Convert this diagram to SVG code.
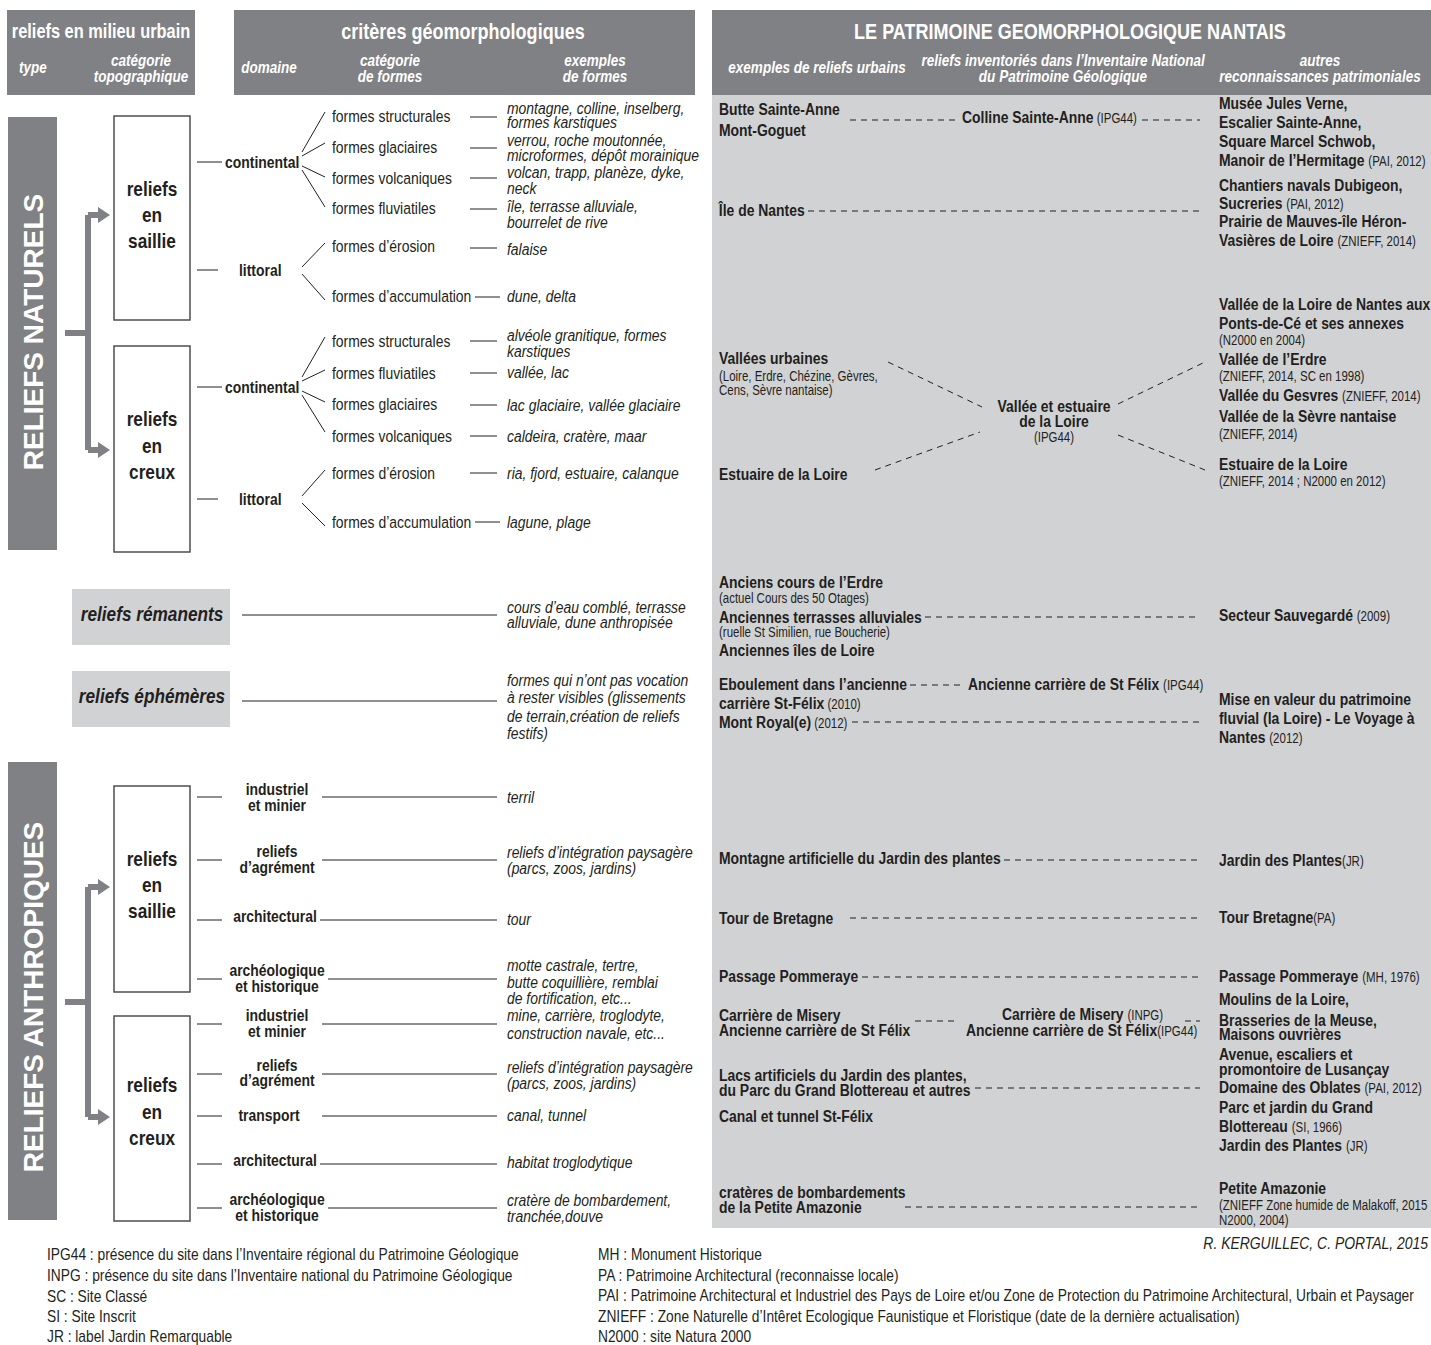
<svg xmlns="http://www.w3.org/2000/svg" width="1431" height="1345" viewBox="0 0 1431 1345">
<style>
text{font-family:"Liberation Sans",Arial,sans-serif;fill:#231f20;transform-box:fill-box;transform-origin:0% 50%;transform:scaleX(.82)}
.h,.hi,.bx,.bc,.gi,.m{transform-origin:50% 50%}
.h{font-size:22px;font-weight:bold;fill:#fff;text-anchor:middle}
.hi{font-size:16.5px;font-weight:bold;font-style:italic;fill:#fff;text-anchor:middle}
.v{font-size:28px;font-weight:bold;fill:#fff;text-anchor:middle;transform:none}
.bx{font-size:21px;font-weight:bold;text-anchor:middle}
.f{font-size:17px}
.b{font-size:17px;font-weight:bold}
.bc{font-size:17px;font-weight:bold;text-anchor:middle}
.ex{font-size:17px;font-style:italic}
.gi{font-size:21px;font-weight:bold;font-style:italic;text-anchor:middle}
.r{font-size:17px;font-weight:bold}
.s{font-size:14px;font-weight:normal}
.m{text-anchor:middle}
.leg{font-size:16.8px}
.cr{font-size:17px;font-style:italic;text-anchor:end;transform-origin:100% 50%}
.dark{fill:#808184}
.light{fill:#d1d2d4}
.box{fill:#fff;stroke:#4d4d4f;stroke-width:1.5}
.ln{stroke:#231f20;stroke-width:1;fill:none}
.ds{stroke:#231f20;stroke-width:1;stroke-dasharray:6 5;fill:none}
.br{stroke:#808184;stroke-width:6;fill:none}
.ah{fill:#808184}
</style>

<!-- headers -->
<g id="header-urbain">
<rect class="dark" x="7" y="10" width="188" height="85"/>
<text class="h" x="101" y="38" style="font-size:20px">reliefs en milieu urbain</text>
<text class="hi" x="33" y="73">type</text>
<text class="hi" x="141" y="66">catégorie</text>
<text class="hi" x="141" y="82">topographique</text>
</g>
<g id="header-criteres">
<rect class="dark" x="234" y="10" width="461" height="85"/>
<text class="h" x="463" y="39">critères géomorphologiques</text>
<text class="hi" x="269" y="73">domaine</text>
<text class="hi" x="390" y="66">catégorie</text>
<text class="hi" x="390" y="82">de formes</text>
<text class="hi" x="595" y="66">exemples</text>
<text class="hi" x="595" y="82">de formes</text>
</g>
<g id="header-patrimoine">
<rect class="light" x="712" y="95" width="719" height="1133"/>
<rect class="dark" x="712" y="10" width="719" height="85"/>
<text class="h" x="1070" y="39">LE PATRIMOINE GEOMORPHOLOGIQUE NANTAIS</text>
<text class="hi" x="817" y="73">exemples de reliefs urbains</text>
<text class="hi" x="1063" y="66">reliefs inventoriés dans l’Inventaire National</text>
<text class="hi" x="1063" y="82">du Patrimoine Géologique</text>
<text class="hi" x="1320" y="66">autres</text>
<text class="hi" x="1320" y="82">reconnaissances patrimoniales</text>
</g>

<!-- type bars -->
<g id="type-naturels">
<rect class="dark" x="8" y="117" width="49" height="433"/>
<g transform="translate(43,332) rotate(-90)"><text class="v" x="0" y="0">RELIEFS NATURELS</text></g>
</g>
<g id="type-anthropiques">
<rect class="dark" x="8" y="762" width="49" height="458"/>
<g transform="translate(43,997) rotate(-90)"><text class="v" x="0" y="0">RELIEFS ANTHROPIQUES</text></g>
</g>

<!-- category boxes -->
<g id="nat-saillie">
<rect class="box" x="114" y="116" width="76" height="204"/>
<text class="bx" x="152" y="196">reliefs</text>
<text class="bx" x="152" y="222">en</text>
<text class="bx" x="152" y="248">saillie</text>
</g>
<g id="nat-creux">
<rect class="box" x="114" y="346" width="76" height="206"/>
<text class="bx" x="152" y="426">reliefs</text>
<text class="bx" x="152" y="453">en</text>
<text class="bx" x="152" y="479">creux</text>
</g>
<g id="ant-saillie">
<rect class="box" x="114" y="786" width="76" height="206"/>
<text class="bx" x="152" y="866">reliefs</text>
<text class="bx" x="152" y="892">en</text>
<text class="bx" x="152" y="918">saillie</text>
</g>
<g id="ant-creux">
<rect class="box" x="114" y="1016" width="76" height="205"/>
<text class="bx" x="152" y="1092">reliefs</text>
<text class="bx" x="152" y="1119">en</text>
<text class="bx" x="152" y="1145">creux</text>
</g>
<g id="remanents">
<rect class="light" x="72" y="589" width="158" height="56"/>
<text class="gi" x="152" y="621">reliefs rémanents</text>
</g>
<g id="ephemeres">
<rect class="light" x="72" y="671" width="158" height="56"/>
<text class="gi" x="152" y="703">reliefs éphémères</text>
</g>

<!-- natural saillie tree -->
<g id="nat-saillie-tree">
<text class="b" x="225" y="168">continental</text>
<text class="b" x="239" y="276">littoral</text>
<text class="f" x="332" y="122">formes structurales</text>
<text class="f" x="332" y="153">formes glaciaires</text>
<text class="f" x="332" y="184">formes volcaniques</text>
<text class="f" x="332" y="214">formes fluviatiles</text>
<text class="f" x="332" y="252">formes d’érosion</text>
<text class="f" x="332" y="302">formes d’accumulation</text>
<text class="ex" x="507" y="114">montagne, colline, inselberg,</text>
<text class="ex" x="507" y="128">formes karstiques</text>
<text class="ex" x="507" y="146">verrou, roche moutonnée,</text>
<text class="ex" x="507" y="161">microformes, dépôt morainique</text>
<text class="ex" x="507" y="178">volcan, trapp, planèze, dyke,</text>
<text class="ex" x="507" y="194">neck</text>
<text class="ex" x="507" y="212">île, terrasse alluviale,</text>
<text class="ex" x="507" y="228">bourrelet de rive</text>
<text class="ex" x="507" y="255">falaise</text>
<text class="ex" x="507" y="302">dune, delta</text>
</g>
<g id="nat-creux-tree">
<text class="b" x="225" y="393">continental</text>
<text class="b" x="239" y="505">littoral</text>
<text class="f" x="332" y="347">formes structurales</text>
<text class="f" x="332" y="379">formes fluviatiles</text>
<text class="f" x="332" y="410">formes glaciaires</text>
<text class="f" x="332" y="442">formes volcaniques</text>
<text class="f" x="332" y="479">formes d’érosion</text>
<text class="f" x="332" y="528">formes d’accumulation</text>
<text class="ex" x="507" y="341">alvéole granitique, formes</text>
<text class="ex" x="507" y="357">karstiques</text>
<text class="ex" x="507" y="378">vallée, lac</text>
<text class="ex" x="507" y="411">lac glaciaire, vallée glaciaire</text>
<text class="ex" x="507" y="442">caldeira, cratère, maar</text>
<text class="ex" x="507" y="479">ria, fjord, estuaire, calanque</text>
<text class="ex" x="507" y="528">lagune, plage</text>
</g>
<g id="mid-examples">
<text class="ex" x="507" y="613">cours d’eau comblé, terrasse</text>
<text class="ex" x="507" y="628">alluviale, dune anthropisée</text>
<text class="ex" x="507" y="686">formes qui n’ont pas vocation</text>
<text class="ex" x="507" y="703">à rester visibles (glissements</text>
<text class="ex" x="507" y="722">de terrain,création de reliefs</text>
<text class="ex" x="507" y="739">festifs)</text>
</g>
<g id="ant-saillie-tree">
<text class="bc" x="277" y="795">industriel</text>
<text class="bc" x="277" y="811">et minier</text>
<text class="bc" x="277" y="857">reliefs</text>
<text class="bc" x="277" y="873">d’agrément</text>
<text class="bc" x="275" y="922">architectural</text>
<text class="bc" x="277" y="976">archéologique</text>
<text class="bc" x="277" y="992">et historique</text>
<text class="ex" x="507" y="803">terril</text>
<text class="ex" x="507" y="858">reliefs d’intégration paysagère</text>
<text class="ex" x="507" y="874">(parcs, zoos, jardins)</text>
<text class="ex" x="507" y="925">tour</text>
<text class="ex" x="507" y="971">motte castrale, tertre,</text>
<text class="ex" x="507" y="988">butte coquillière, remblai</text>
<text class="ex" x="507" y="1004">de fortification, etc...</text>
</g>
<g id="ant-creux-tree">
<text class="bc" x="277" y="1021">industriel</text>
<text class="bc" x="277" y="1037">et minier</text>
<text class="bc" x="277" y="1071">reliefs</text>
<text class="bc" x="277" y="1086">d’agrément</text>
<text class="bc" x="269" y="1121">transport</text>
<text class="bc" x="275" y="1166">architectural</text>
<text class="bc" x="277" y="1205">archéologique</text>
<text class="bc" x="277" y="1221">et historique</text>
<text class="ex" x="507" y="1021">mine, carrière, troglodyte,</text>
<text class="ex" x="507" y="1039">construction navale, etc...</text>
<text class="ex" x="507" y="1073">reliefs d’intégration paysagère</text>
<text class="ex" x="507" y="1089">(parcs, zoos, jardins)</text>
<text class="ex" x="507" y="1121">canal, tunnel</text>
<text class="ex" x="507" y="1168">habitat troglodytique</text>
<text class="ex" x="507" y="1206">cratère de bombardement,</text>
<text class="ex" x="507" y="1222">tranchée,douve</text>
</g>

<!-- right panel -->
<g id="p-sainte-anne">
<text class="r" x="719" y="115">Butte Sainte-Anne</text>
<text class="r" x="719" y="136">Mont-Goguet</text>
<text class="r" x="962" y="123">Colline Sainte-Anne<tspan class="s"> (IPG44)</tspan></text>
<text class="r" x="1219" y="109">Musée Jules Verne,</text>
<text class="r" x="1219" y="128">Escalier Sainte-Anne,</text>
<text class="r" x="1219" y="147">Square Marcel Schwob,</text>
<text class="r" x="1219" y="166">Manoir de l’Hermitage <tspan class="s">(PAI, 2012)</tspan></text>
</g>
<g id="p-ile-nantes">
<text class="r" x="719" y="216">Île de Nantes</text>
<text class="r" x="1219" y="191">Chantiers navals Dubigeon,</text>
<text class="r" x="1219" y="209">Sucreries <tspan class="s">(PAI, 2012)</tspan></text>
<text class="r" x="1219" y="227">Prairie de Mauves-île Héron-</text>
<text class="r" x="1219" y="246">Vasières de Loire <tspan class="s">(ZNIEFF, 2014)</tspan></text>
</g>
<g id="p-vallees">
<text class="r" x="719" y="364">Vallées urbaines</text>
<text class="s" x="719" y="381">(Loire, Erdre, Chézine, Gèvres,</text>
<text class="s" x="719" y="395">Cens, Sèvre nantaise)</text>
<text class="r" x="719" y="480">Estuaire de la Loire</text>
<text class="bc" x="1054" y="412">Vallée et estuaire</text>
<text class="bc" x="1054" y="427">de la Loire</text>
<text class="s m" x="1054" y="442">(IPG44)</text>
<text class="r" x="1219" y="310">Vallée de la Loire de Nantes aux</text>
<text class="r" x="1219" y="329">Ponts-de-Cé et ses annexes</text>
<text class="s" x="1219" y="345">(N2000 en 2004)</text>
<text class="r" x="1219" y="365">Vallée de l’Erdre</text>
<text class="s" x="1219" y="381">(ZNIEFF, 2014, SC en 1998)</text>
<text class="r" x="1219" y="401">Vallée du Gesvres <tspan class="s">(ZNIEFF, 2014)</tspan></text>
<text class="r" x="1219" y="422">Vallée de la Sèvre nantaise</text>
<text class="s" x="1219" y="439">(ZNIEFF, 2014)</text>
<text class="r" x="1219" y="470">Estuaire de la Loire</text>
<text class="s" x="1219" y="486">(ZNIEFF, 2014 ;  N2000 en 2012)</text>
</g>
<g id="p-remanents">
<text class="r" x="719" y="588">Anciens cours de l’Erdre</text>
<text class="s" x="719" y="603">(actuel Cours des 50 Otages)</text>
<text class="r" x="719" y="623">Anciennes terrasses alluviales</text>
<text class="s" x="719" y="637">(ruelle St Similien, rue Boucherie)</text>
<text class="r" x="719" y="656">Anciennes îles de Loire</text>
<text class="r" x="1219" y="621">Secteur Sauvegardé <tspan class="s">(2009)</tspan></text>
</g>
<g id="p-ephemeres">
<text class="r" x="719" y="690">Eboulement dans l’ancienne</text>
<text class="r" x="719" y="709">carrière St-Félix<tspan class="s"> (2010)</tspan></text>
<text class="r" x="719" y="728">Mont Royal(e)<tspan class="s"> (2012)</tspan></text>
<text class="r" x="968" y="690">Ancienne carrière de St Félix <tspan class="s">(IPG44)</tspan></text>
<text class="r" x="1219" y="705">Mise en valeur du patrimoine</text>
<text class="r" x="1219" y="724">fluvial (la Loire) - Le Voyage à</text>
<text class="r" x="1219" y="743">Nantes <tspan class="s">(2012)</tspan></text>
</g>
<g id="p-jardin">
<text class="r" x="719" y="864">Montagne artificielle du Jardin des plantes</text>
<text class="r" x="1219" y="866">Jardin des Plantes<tspan class="s">(JR)</tspan></text>
</g>
<g id="p-tour">
<text class="r" x="719" y="924">Tour de Bretagne</text>
<text class="r" x="1219" y="923">Tour Bretagne<tspan class="s">(PA)</tspan></text>
</g>
<g id="p-pommeraye">
<text class="r" x="719" y="982">Passage Pommeraye</text>
<text class="r" x="1219" y="982">Passage Pommeraye <tspan class="s">(MH, 1976)</tspan></text>
</g>
<g id="p-misery">
<text class="r" x="719" y="1021">Carrière de Misery</text>
<text class="r" x="719" y="1036">Ancienne carrière de St Félix</text>
<text class="r" x="1002" y="1020">Carrière de Misery <tspan class="s">(INPG)</tspan></text>
<text class="r" x="966" y="1036">Ancienne carrière de St Félix<tspan class="s">(IPG44)</tspan></text>
<text class="r" x="1219" y="1005">Moulins de la Loire,</text>
<text class="r" x="1219" y="1026">Brasseries de la Meuse,</text>
<text class="r" x="1219" y="1040">Maisons ouvrières</text>
</g>
<g id="p-lacs">
<text class="r" x="719" y="1081">Lacs artificiels du Jardin des plantes,</text>
<text class="r" x="719" y="1096">du Parc du Grand Blottereau et autres</text>
<text class="r" x="719" y="1122">Canal et tunnel St-Félix</text>
<text class="r" x="1219" y="1060">Avenue, escaliers et</text>
<text class="r" x="1219" y="1075">promontoire de Lusançay</text>
<text class="r" x="1219" y="1093">Domaine des Oblates <tspan class="s">(PAI, 2012)</tspan></text>
<text class="r" x="1219" y="1113">Parc et jardin du Grand</text>
<text class="r" x="1219" y="1132">Blottereau <tspan class="s">(SI, 1966)</tspan></text>
<text class="r" x="1219" y="1151">Jardin des Plantes <tspan class="s">(JR)</tspan></text>
</g>
<g id="p-amazonie">
<text class="r" x="719" y="1198">cratères de bombardements</text>
<text class="r" x="719" y="1213">de la Petite Amazonie</text>
<text class="r" x="1219" y="1194">Petite Amazonie</text>
<text class="s" x="1219" y="1210">(ZNIEFF Zone humide de Malakoff, 2015</text>
<text class="s" x="1219" y="1225">N2000, 2004)</text>
</g>

<g id="credit">
<text class="cr" x="1428" y="1249">R. KERGUILLEC, C. PORTAL, 2015</text>
</g>
<g id="legend">
<text class="leg" x="47" y="1260">IPG44 : présence du site dans l’Inventaire régional du Patrimoine Géologique</text>
<text class="leg" x="47" y="1281">INPG : présence du site dans l’Inventaire national du Patrimoine Géologique</text>
<text class="leg" x="47" y="1302">SC : Site Classé</text>
<text class="leg" x="47" y="1322">SI : Site Inscrit</text>
<text class="leg" x="47" y="1342">JR : label Jardin Remarquable</text>
<text class="leg" x="598" y="1260">MH : Monument Historique</text>
<text class="leg" x="598" y="1281">PA : Patrimoine Architectural (reconnaisse locale)</text>
<text class="leg" x="598" y="1301">PAI : Patrimoine Architectural et Industriel des Pays de Loire et/ou Zone de Protection du Patrimoine Architectural, Urbain et Paysager</text>
<text class="leg" x="598" y="1322">ZNIEFF : Zone Naturelle d’Intêret Ecologique Faunistique et Floristique (date de la dernière actualisation)</text>
<text class="leg" x="598" y="1342">N2000 : site Natura 2000</text>
</g>

<!-- connectors -->
<g id="connectors">
<path class="br" d="M65 333H88M88 215V450M88 215H100M88 450H100"/>
<polygon class="ah" points="98,207 110,215 98,223"/>
<polygon class="ah" points="98,442 110,450 98,458"/>
<path class="br" d="M65 1002H88M88 887V1117M88 887H100M88 1117H100"/>
<polygon class="ah" points="98,879 110,887 98,895"/>
<polygon class="ah" points="98,1109 110,1117 98,1125"/>
<path class="ln" d="M197 162H222M197 270H218"/>
<path class="ln" d="M302 152L325 112M302 156L325 143M302 166L325 177M302 170L325 207M302 267L325 243M302 274L325 300"/>
<path class="ln" d="M470 117H497M470 148H497M470 178H497M470 209H497M470 248H497M475 297H500"/>
<path class="ln" d="M197 387H222M197 499H218"/>
<path class="ln" d="M302 377L325 337M302 381L325 370M302 391L325 402M302 395L325 432M302 496L325 470M302 503L325 526"/>
<path class="ln" d="M470 341H497M470 373H497M470 405H497M470 436H497M470 473H497M475 522H500"/>
<path class="ln" d="M242 615H497M242 701H497"/>
<path class="ln" d="M197 797H222M322 797H497M197 860H222M322 860H497M197 920H222M320 920H497M197 979H222M328 979H497"/>
<path class="ln" d="M197 1024H222M322 1024H497M197 1074H222M322 1074H497M197 1116H222M322 1116H497M197 1164H222M320 1164H497M197 1208H222M328 1208H497"/>
<path class="ds" d="M850 120H955M1142 120H1200"/>
<path class="ds" d="M808 211H1200"/>
<path class="ds" d="M888 362L982 407M875 470L980 432M1118 404L1205 362M1118 435L1205 470"/>
<path class="ds" d="M925 617H1200"/>
<path class="ds" d="M910 685H962M852 722H1200"/>
<path class="ds" d="M1004 860H1200"/>
<path class="ds" d="M850 918H1200"/>
<path class="ds" d="M862 977H1200"/>
<path class="ds" d="M915 1021H955M1185 1021H1200"/>
<path class="ds" d="M975 1088H1200"/>
<path class="ds" d="M905 1207H1200"/>
</g>
</svg>
